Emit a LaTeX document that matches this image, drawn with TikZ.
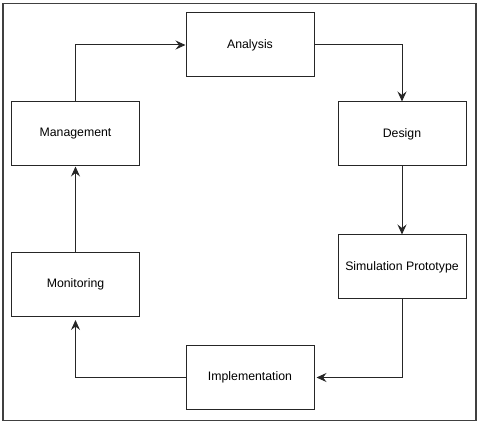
\documentclass[tikz,border=0pt]{standalone}
\usepackage{fontspec}
\setmainfont{Liberation Sans}
\usetikzlibrary{arrows.meta}
\begin{document}
\begin{tikzpicture}[x=1pt,y=-1pt,
  stagebox/.style={draw=black!85, line width=1pt, minimum width=128pt, minimum height=64pt, inner sep=0pt, font=\fontsize{12.3}{14}\selectfont},
  flow/.style={draw=black!85, line width=1pt, -{Stealth[length=10pt,width=9pt,inset=3.5pt]}}]
\useasboundingbox (0,0) rectangle (480,425);
\draw[draw=black!75, line width=1.4pt] (3,3.5) rectangle (476,420.5);
\node[stagebox] (ana) at (250,45) {Analysis};
\node[stagebox] (des) at (402,134) {Design};
\node[stagebox] (sim) at (402,267) {Simulation Prototype};
\node[stagebox] (imp) at (250,377.5) {Implementation};
\node[stagebox] (mon) at (75.5,284.5) {Monitoring};
\node[stagebox] (man) at (75.5,134) {Management};
\draw[flow] (man.north) |- (ana.west);
\draw[flow] (ana.east) -| (des.north);
\draw[flow] (des.south) -- (sim.north);
\draw[flow, shorten >=2pt] (sim.south) |- (imp.east);
\draw[flow, shorten >=3pt] (imp.west) -| (mon.south);
\draw[flow] (mon.north) -- (man.south);
\end{tikzpicture}
\end{document}
